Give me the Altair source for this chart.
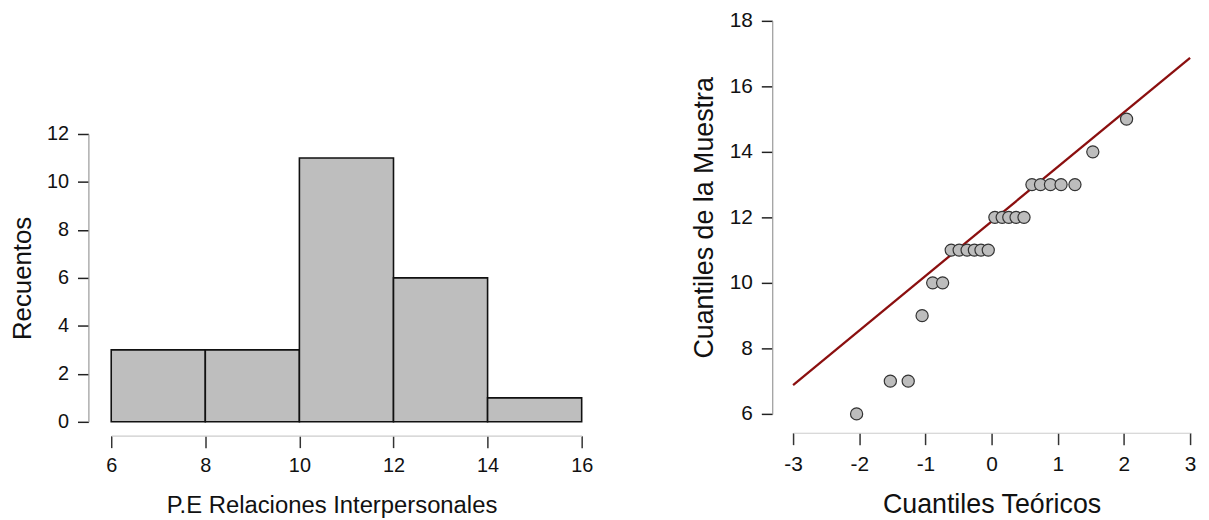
import altair as alt
import pandas as pd

# Histogram data
bin_start = [6, 8, 10, 12, 14]
bin_end = [8, 10, 12, 14, 16]
counts = [3, 3, 11, 6, 1]

# Q-Q plot data
theoretical = [-2.04, -1.53, -1.26, -1.05, -0.89, -0.74, -0.61, -0.49, -0.37, -0.26, -0.16, -0.05,
               0.05, 0.16, 0.26, 0.37, 0.49, 0.61, 0.74, 0.89, 1.05, 1.26, 1.53, 2.04]
sample = [6, 7, 7, 9, 10, 10, 11, 11, 11, 11, 11, 11,
          12, 12, 12, 12, 12, 13, 13, 13, 13, 13, 14, 15]
line_x = [-3, 3]
line_y = [6.88, 16.87]

FONT = "Liberation Sans"
LBL = "datum.value + ''"

hist_df = pd.DataFrame({"start": bin_start, "end": bin_end, "count": counts})
qq_df = pd.DataFrame({"t": theoretical, "s": sample})
line_df = pd.DataFrame({"x": line_x, "y": line_y})

def xaxis(title, values, offset, lfs, lpad, tfs, tpad, **kw):
    return alt.Axis(title=title, values=values, offset=offset, tickSize=12, tickColor="#333333",
                    domainColor="#cccccc", domainWidth=1.2, tickWidth=1.5, labelFontSize=lfs,
                    labelPadding=lpad, titleFontSize=tfs, titlePadding=tpad, grid=False,
                    labelColor="#111111", titleColor="#111111", titleFontWeight="normal",
                    labelFont=FONT, titleFont=FONT, labelFlush=False, labelExpr=LBL, **kw)

def yaxis(title, values, offset, lfs, tfs, tpad):
    return alt.Axis(title=title, values=values, offset=offset, tickSize=11, tickColor="#222222",
                    domainColor="#999999", domainWidth=1.2, tickWidth=1.5, labelFontSize=lfs,
                    labelPadding=9, titleFontSize=tfs, titlePadding=tpad, grid=False,
                    labelColor="#111111", titleColor="#111111", titleFontWeight="normal",
                    labelFont=FONT, titleFont=FONT, labelFlush=False, labelExpr=LBL)

hist = alt.Chart(hist_df).mark_rect(fill="#bebebe", stroke="#111111", strokeWidth=1.6).encode(
    x=alt.X("start:Q", scale=alt.Scale(domain=[6, 16], nice=False, zero=False),
            axis=xaxis("P.E Relaciones Interpersonales", [6, 8, 10, 12, 14, 16], 14, 20, 8, 24, 18,
                       titleX=222)),
    x2="end:Q",
    y=alt.Y("count:Q", scale=alt.Scale(domain=[0, 12], nice=False),
            axis=yaxis("Recuentos", [0, 2, 4, 6, 8, 10, 12], 23, 20, 26, 11)),
    y2=alt.datum(0),
).properties(width=474, height=290)

spacer = alt.Chart(pd.DataFrame({"v": [0]})).mark_point(opacity=0, size=1).encode(
    x=alt.value(10), y=alt.value(10)
).properties(width=474, height=104)

left = alt.vconcat(spacer, hist, spacing=0)

xs = alt.Scale(domain=[-3, 3], nice=False, zero=False)
ys = alt.Scale(domain=[6, 18], nice=False, zero=False)

line = alt.Chart(line_df).mark_line(color="#8b0f0f", strokeWidth=2.3, clip=False).encode(
    x=alt.X("x:Q", scale=xs, axis=xaxis("Cuantiles Teóricos", [-3, -2, -1, 0, 1, 2, 3], 19, 21, 9, 27, 17)),
    y=alt.Y("y:Q", scale=ys, axis=yaxis("Cuantiles de la Muestra", [6, 8, 10, 12, 14, 16, 18], 21, 21, 27, 11)),
)
pts = alt.Chart(qq_df).mark_point(filled=True, fill="#bdbdbd", stroke="#333333", strokeWidth=1.2,
                                  size=150, opacity=1, clip=False).encode(
    x=alt.X("t:Q", scale=xs),
    y=alt.Y("s:Q", scale=ys),
)
right = alt.layer(line, pts).properties(width=400, height=396)

chart = alt.hconcat(left, right, spacing=97).properties(
    padding={"left": 1, "top": 0, "right": 5, "bottom": 5}
).configure(background="white", font=FONT).configure_view(strokeWidth=0, stroke="transparent")

chart.save("out.html", embed_options={"renderer": "svg", "actions": False})
